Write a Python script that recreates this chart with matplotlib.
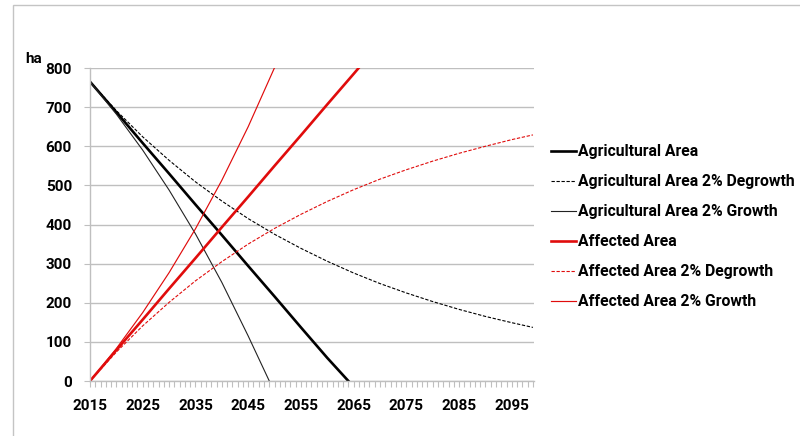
import matplotlib
matplotlib.use("Agg")
import matplotlib.pyplot as plt
from matplotlib.patches import Rectangle
from matplotlib.ticker import FixedLocator, MultipleLocator

plt.rcParams['font.family'] = ['Roboto', 'DejaVu Sans']
plt.rcParams['font.weight'] = 'bold'

# values (ha)
years_5 = [2015, 2020, 2025, 2030, 2035, 2040, 2045, 2050, 2055, 2060,
           2065, 2070, 2075, 2080, 2085, 2090, 2095, 2099]

agri_years = [2015, 2020, 2025, 2030, 2035, 2040, 2045, 2050, 2055, 2060, 2064]
agri_area = [765, 687, 608, 530, 451, 373, 294, 216, 137, 59, 0]

agri_degrowth = [765, 691, 624, 564, 509, 460, 415, 375, 339, 306,
                 276, 249, 225, 203, 183, 165, 149, 137]

agri_growth_years = [2015, 2020, 2025, 2030, 2035, 2040, 2045, 2049]
agri_growth = [765, 682, 590, 488, 376, 252, 115, 0]

aff_years = [2015, 2020, 2025, 2030, 2035, 2040, 2045, 2050, 2055, 2060, 2065, 2070]
aff_area = [0, 79, 157, 236, 314, 393, 471, 550, 628, 707, 785, 864]

aff_degrowth = [0, 74, 141, 201, 256, 305, 350, 390, 426, 459,
                489, 516, 540, 562, 582, 600, 617, 629]

aff_growth_years = [2015, 2020, 2025, 2030, 2035, 2040, 2045, 2050]
aff_growth = [0, 83, 175, 277, 389, 513, 650, 801]

x_ticks = [2015, 2025, 2035, 2045, 2055, 2065, 2075, 2085, 2095]

labels = ['Agricultural Area', 'Agricultural Area 2% Degrowth', 'Agricultural Area 2% Growth',
          'Affected Area', 'Affected Area 2% Degrowth', 'Affected Area 2% Growth']

RED = '#e00c0c'
GRID = '#bfbfbf'
dash = (0, (3, 1.5))
FS = 11

fig = plt.figure(figsize=(8, 4.36), dpi=100)
ax = fig.add_axes([90 / 800, 1 - 381 / 436, 444 / 800, 313 / 436])

ax.plot(agri_years, agri_area, color='black', lw=1.9, label=labels[0])
ax.plot(years_5, agri_degrowth, color='black', lw=0.8, ls=dash, label=labels[1])
ax.plot(agri_growth_years, agri_growth, color='#222222', lw=0.8, label=labels[2])
ax.plot(aff_years, aff_area, color=RED, lw=1.9, label=labels[3])
ax.plot(years_5, aff_degrowth, color=RED, lw=0.8, ls=dash, label=labels[4])
ax.plot(aff_growth_years, aff_growth, color=RED, lw=0.85, label=labels[5])

ax.set_xlim(2015, 2099.2)
ax.set_ylim(0, 800)
ax.xaxis.set_major_locator(FixedLocator(x_ticks))
ax.xaxis.set_minor_locator(MultipleLocator(1))
ax.yaxis.set_major_locator(MultipleLocator(100))
ax.grid(axis='y', color=GRID, lw=1.0)
ax.set_axisbelow(True)

for side in ['top', 'right']:
    ax.spines[side].set_visible(False)
for side in ['left', 'bottom']:
    ax.spines[side].set_color(GRID)
    ax.spines[side].set_linewidth(1.0)

ax.tick_params(axis='both', which='both', color=GRID, length=4, width=0.8, direction='out')
ax.tick_params(axis='x', which='major', labelsize=FS, pad=9)
ax.tick_params(axis='y', which='major', labelsize=FS, pad=9)
for t in ax.get_xticklabels() + ax.get_yticklabels():
    t.set_fontweight('bold')

fig.text(25 / 800, 1 - 59 / 436, 'ha', fontsize=FS, fontweight='bold', va='center', ha='left')

leg = fig.legend(loc='upper left', bbox_to_anchor=(551 / 800, 1 - 144 / 436), frameon=False,
                 prop={'size': 11.3, 'weight': 'bold'}, handlelength=1.6, handletextpad=0.1,
                 labelspacing=0.96, borderaxespad=0, borderpad=0)

# outer chart frame (cut off at right and bottom)
fig.patches.append(Rectangle((13 / 800, -0.1), 1.2, 1.1 - 5 / 436, transform=fig.transFigure,
                             fill=False, edgecolor='#c4c4c4', lw=1.0))

fig.savefig('out.png', dpi=100)
